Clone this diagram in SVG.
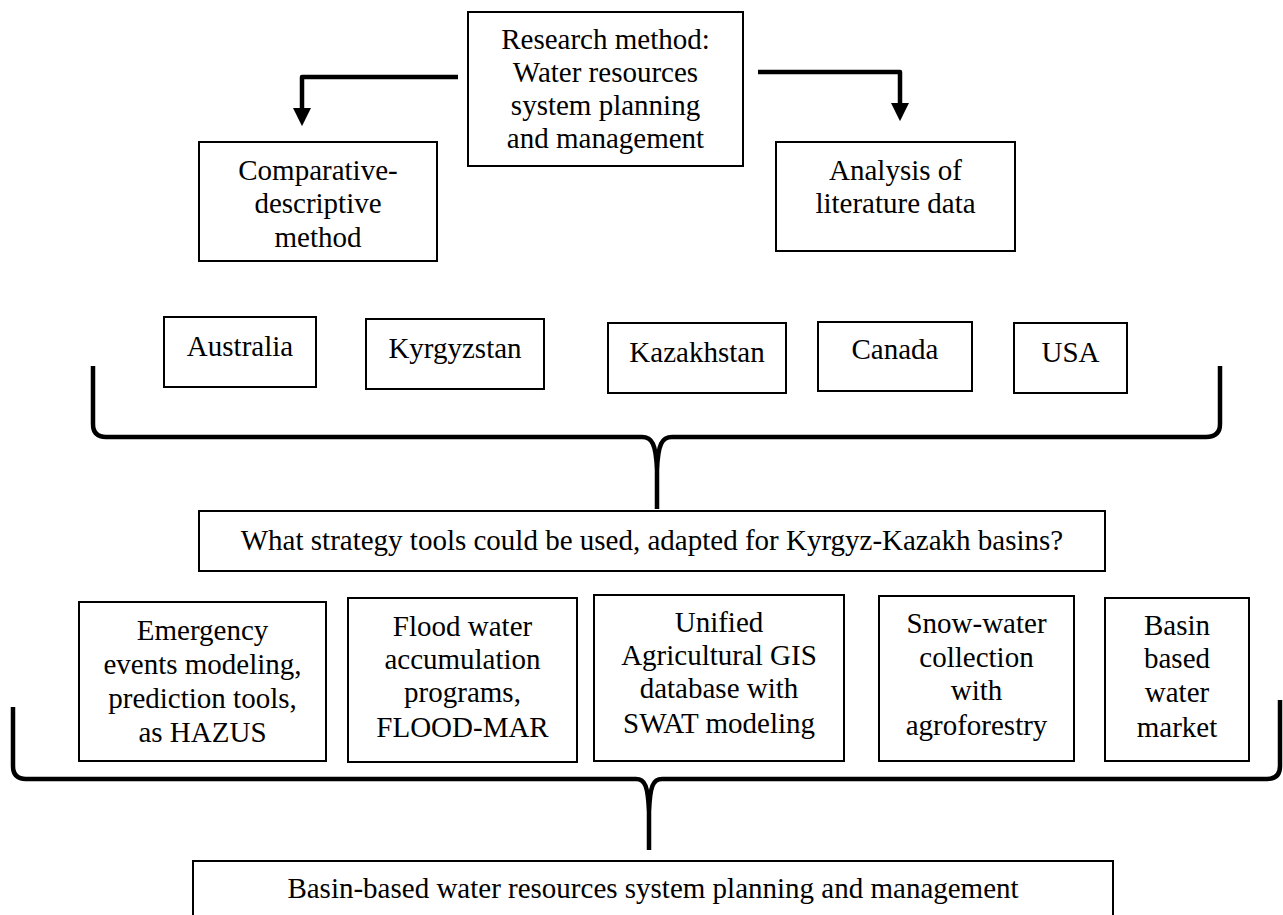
<svg xmlns="http://www.w3.org/2000/svg" width="1283" height="915" viewBox="0 0 1283 915">
<style>
.box{fill:#fff;stroke:#000;stroke-width:2}
.t{font-family:"Liberation Serif","Times New Roman",serif;font-size:29px;fill:#000;text-anchor:middle}
.conn{fill:none;stroke:#000;stroke-width:4.5;stroke-linejoin:round;stroke-linecap:butt}
.brace{fill:none;stroke:#000;stroke-width:4.5;stroke-linejoin:round;stroke-linecap:butt}
</style>
<defs>
<marker id="ah" markerWidth="4" markerHeight="4" refX="2.2" refY="2" orient="auto" markerUnits="strokeWidth" viewBox="0 0 4 4">
<path d="M0,0 L4,2 L0,4 z" fill="#000"/>
</marker>
</defs>
<rect width="1283" height="915" fill="#fff"/>
<g id="connectors">
<path class="conn" d="M458,77 L302,77 L302,118" marker-end="url(#ah)"/>
<path class="conn" d="M758,72 L900,72 L900,113" marker-end="url(#ah)"/>
<path class="brace" d="M93,366 L93,424 Q93,437 106,437 L642,437 C652,437 656,444 657,470 L657,509 M672,437 C662,437 658,444 657,470 M672,437 L1206,437 Q1220,437 1220,424 L1220,366"/>
<path class="brace" d="M13,707 L13,766 Q13,779 26,779 L636,779 C645,779 648,786 649,812 L649,850 M662,779 C653,779 650,786 649,812 M662,779 L1267,779 Q1280,779 1280,766 L1280,700"/>
</g>
<g id="research">
<rect class="box" x="468" y="12" width="275" height="154"/>
<text class="t" x="605.5" y="49">Research method:</text>
<text class="t" x="605.5" y="82">Water resources</text>
<text class="t" x="605.5" y="115">system planning</text>
<text class="t" x="605.5" y="148">and management</text>
</g>
<g id="comparative">
<rect class="box" x="199" y="142" width="238" height="119"/>
<text class="t" x="318" y="180">Comparative-</text>
<text class="t" x="318" y="213">descriptive</text>
<text class="t" x="318" y="247">method</text>
</g>
<g id="analysis">
<rect class="box" x="776" y="142" width="239" height="109"/>
<text class="t" x="895.5" y="180">Analysis of</text>
<text class="t" x="895.5" y="213">literature data</text>
</g>
<g id="australia">
<rect class="box" x="164" y="317" width="152" height="70"/>
<text class="t" x="240" y="356">Australia</text>
</g>
<g id="kyrgyzstan">
<rect class="box" x="366" y="319" width="178" height="70"/>
<text class="t" x="455" y="358">Kyrgyzstan</text>
</g>
<g id="kazakhstan">
<rect class="box" x="608" y="323" width="178" height="70"/>
<text class="t" x="697" y="362">Kazakhstan</text>
</g>
<g id="canada">
<rect class="box" x="818" y="322" width="154" height="69"/>
<text class="t" x="895" y="359">Canada</text>
</g>
<g id="usa">
<rect class="box" x="1014" y="323" width="113" height="70"/>
<text class="t" x="1070.5" y="362">USA</text>
</g>
<g id="strategy">
<rect class="box" x="199" y="511" width="906" height="60"/>
<text class="t" x="652" y="550">What strategy tools could be used, adapted for Kyrgyz-Kazakh basins?</text>
</g>
<g id="emergency">
<rect class="box" x="79" y="602" width="247" height="159"/>
<text class="t" x="202.5" y="640">Emergency</text>
<text class="t" x="202.5" y="674">events modeling,</text>
<text class="t" x="202.5" y="708">prediction tools,</text>
<text class="t" x="202.5" y="742">as HAZUS</text>
</g>
<g id="flood">
<rect class="box" x="348" y="598" width="229" height="164"/>
<text class="t" x="462.5" y="636">Flood water</text>
<text class="t" x="462.5" y="669">accumulation</text>
<text class="t" x="462.5" y="702">programs,</text>
<text class="t" x="462.5" y="737">FLOOD-MAR</text>
</g>
<g id="unified">
<rect class="box" x="594" y="595" width="250" height="166"/>
<text class="t" x="719" y="632">Unified</text>
<text class="t" x="719" y="665">Agricultural GIS</text>
<text class="t" x="719" y="698">database with</text>
<text class="t" x="719" y="733">SWAT modeling</text>
</g>
<g id="snow">
<rect class="box" x="879" y="596" width="195" height="165"/>
<text class="t" x="976.5" y="633">Snow-water</text>
<text class="t" x="976.5" y="667">collection</text>
<text class="t" x="976.5" y="700">with</text>
<text class="t" x="976.5" y="735">agroforestry</text>
</g>
<g id="market">
<rect class="box" x="1105" y="598" width="144" height="163"/>
<text class="t" x="1177" y="635">Basin</text>
<text class="t" x="1177" y="668">based</text>
<text class="t" x="1177" y="702">water</text>
<text class="t" x="1177" y="737">market</text>
</g>
<g id="basin-based">
<rect class="box" x="193" y="861" width="920" height="80"/>
<text class="t" x="653" y="898">Basin-based water resources system planning and management</text>
</g>
</svg>
